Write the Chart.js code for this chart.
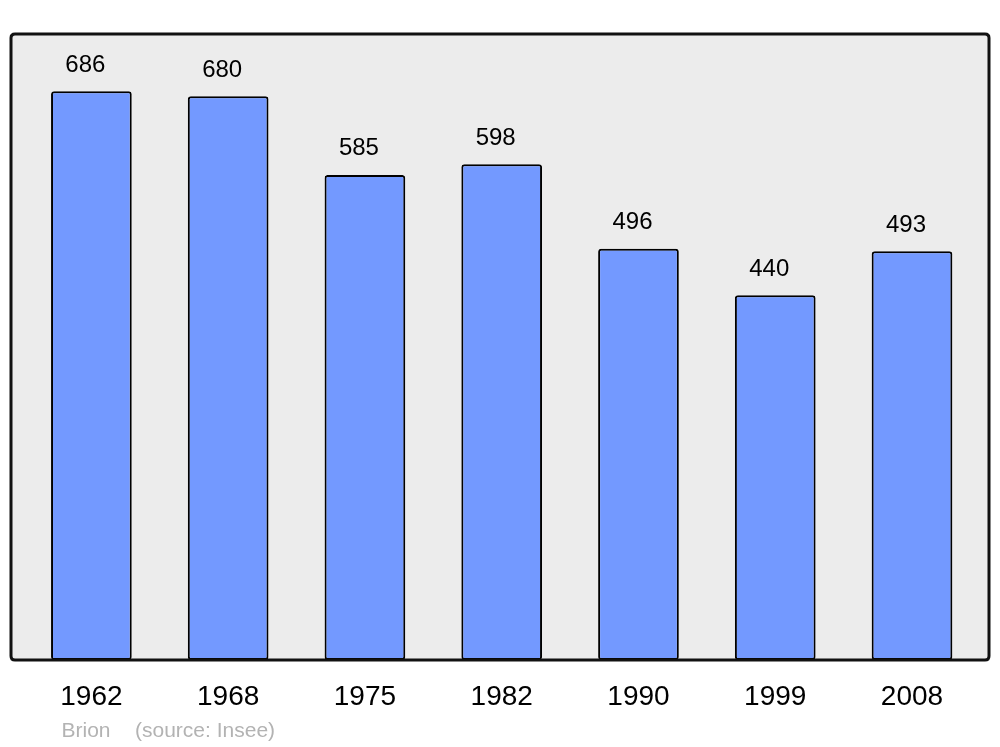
<!DOCTYPE html>
<html>
<head>
<meta charset="utf-8">
<script src="https://cdn.jsdelivr.net/npm/chart.js@4"></script>
<style>
html,body{margin:0;padding:0;background:#fff;}
canvas{display:block;}
</style>
</head>
<body>
<canvas id="c" width="1000" height="747"></canvas>
<script>
const years = ["1962","1968","1975","1982","1990","1999","2008"];
const population = [686, 680, 585, 598, 496, 440, 493];
const commune = "Brion";
const sourceText = "(source: Insee)";

function roundRect(ctx, x, y, w, h, r) {
  ctx.beginPath();
  ctx.moveTo(x + r, y);
  ctx.lineTo(x + w - r, y);
  ctx.quadraticCurveTo(x + w, y, x + w, y + r);
  ctx.lineTo(x + w, y + h - r);
  ctx.quadraticCurveTo(x + w, y + h, x + w - r, y + h);
  ctx.lineTo(x + r, y + h);
  ctx.quadraticCurveTo(x, y + h, x, y + h - r);
  ctx.lineTo(x, y + r);
  ctx.quadraticCurveTo(x, y, x + r, y);
  ctx.closePath();
}

const frame = {x: 11, y: 34, w: 978, h: 626};

const decor = {
  id: 'decor',
  beforeDatasetsDraw(chart) {
    const ctx = chart.ctx;
    ctx.save();
    roundRect(ctx, frame.x, frame.y, frame.w, frame.h, 4);
    ctx.fillStyle = '#ececec';
    ctx.fill();
    ctx.restore();
  },
  afterDatasetsDraw(chart) {
    const ctx = chart.ctx;
    ctx.save();
    roundRect(ctx, frame.x, frame.y, frame.w, frame.h, 4);
    ctx.lineWidth = 3;
    ctx.strokeStyle = '#111';
    ctx.stroke();

    const meta = chart.getDatasetMeta(0);
    const xs = chart.scales.x;
    ctx.fillStyle = '#000';
    ctx.textAlign = 'center';
    ctx.textBaseline = 'alphabetic';
    ctx.font = '24px "Liberation Sans", Arial, sans-serif';
    meta.data.forEach((bar, i) => {
      ctx.fillText(String(population[i]), bar.x - 6, bar.y - 19.5);
    });
    ctx.font = '28px "Liberation Sans", Arial, sans-serif';
    years.forEach((y, i) => {
      ctx.fillText(y, xs.getPixelForValue(i), 705);
    });
    ctx.textAlign = 'left';
    ctx.fillStyle = '#b3b3b3';
    ctx.font = '21px "Liberation Sans", Arial, sans-serif';
    ctx.fillText(commune, 61.5, 737);
    ctx.fillText(sourceText, 135, 737);
    ctx.restore();
  }
};

new Chart(document.getElementById('c'), {
  type: 'bar',
  data: {
    labels: years,
    datasets: [{
      data: population,
      backgroundColor: '#7399ff',
      borderColor: '#000',
      borderWidth: 2,
      borderRadius: 3,
      borderSkipped: false,
      barPercentage: 0.59,
      categoryPercentage: 1.0
    }]
  },
  options: {
    responsive: false,
    animation: false,
    layout: {padding: {left: 23, right: 19.6, top: 34, bottom: 87}},
    plugins: {legend: {display: false}, tooltip: {enabled: false}, title: {display: false}},
    scales: {
      x: {display: false},
      y: {display: false, min: 0, max: 755}
    }
  },
  plugins: [decor]
});
</script>
</body>
</html>
